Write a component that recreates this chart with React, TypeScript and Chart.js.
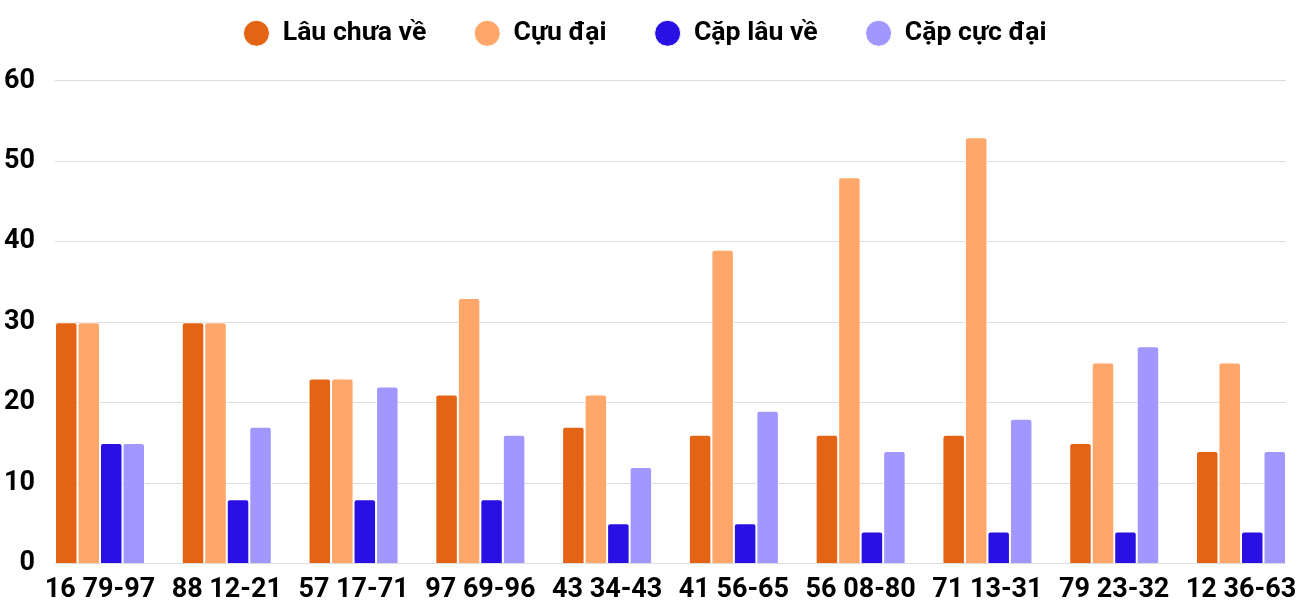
import React, { useEffect, useRef } from "react";
import { Chart, registerables } from "chart.js";

Chart.register(...registerables);

const categories = ["16 79-97", "88 12-21", "57 17-71", "97 69-96", "43 34-43", "41 56-65", "56 08-80", "71 13-31", "79 23-32", "12 36-63"];
const lauChuaVe = [30, 30, 23, 21, 17, 16, 16, 16, 15, 14];
const cuuDai = [30, 30, 23, 33, 21, 39, 48, 53, 25, 25];
const capLauVe = [15, 8, 8, 8, 5, 5, 4, 4, 4, 4];
const capCucDai = [15, 17, 22, 16, 12, 19, 14, 18, 27, 14];
const seriesNames = ["Lâu chưa về", "Cựu đại", "Cặp lâu về", "Cặp cực đại"];
const colors = ["#E36414", "#FFA66B", "#2811E2", "#A197FF"];

const CAT_PCT = 0.71;

// Stretch the category axis so the first and last bar groups touch the plot edges.
const edgeGroupsPlugin = {
  id: "edgeGroups",
  afterLayout(chart: any) {
    const x = chart.scales.x;
    const area = chart.chartArea;
    if (!x || !area) return;
    const n = chart.data.labels.length;
    const W = area.right - area.left;
    const w = W / (n - 1 + CAT_PCT);
    const d = (w * (1 - CAT_PCT)) / 2;
    x.left = area.left - d;
    x.right = area.right + d;
    x.width = x.right - x.left;
    x.configure();
  },
};

export default function App() {
  const ref = useRef<HTMLCanvasElement>(null);
  useEffect(() => {
    if (!ref.current) return;
    const series = [lauChuaVe, cuuDai, capLauVe, capCucDai];
    const chart = new Chart(ref.current, {
      type: "bar",
      data: {
        labels: categories,
        datasets: series.map((d, i) => ({
          label: seriesNames[i],
          data: d,
          backgroundColor: colors[i],
          borderColor: "#ffffff",
          borderWidth: 1,
          borderRadius: 3,
          borderSkipped: "start" as const,
          barPercentage: 1,
          categoryPercentage: CAT_PCT,
        })),
      },
      plugins: [edgeGroupsPlugin],
      options: {
        animation: false,
        responsive: false,
        maintainAspectRatio: false,
        layout: { padding: { left: 4, right: 14, top: -28, bottom: -16 } },
        plugins: {
          tooltip: { enabled: false },
          title: {
            display: true,
            text: " ",
            weight: 500,
            font: { size: 1 },
            padding: { top: 0, bottom: 23 },
          } as any,
          legend: {
            position: "top",
            labels: {
              usePointStyle: true,
              pointStyle: "circle",
              boxWidth: 26,
              boxHeight: 18.4,
              padding: 48,
              color: "#000",
              font: { family: "Roboto", weight: "bold", size: 26.6 },
            },
          },
        },
        scales: {
          x: {
            grid: { display: false, drawTicks: false },
            border: { display: false },
            ticks: {
              color: "#000",
              font: { family: "Roboto", weight: "bold", size: 27 },
              padding: 10,
              maxRotation: 0,
              autoSkip: false,
            },
          },
          y: {
            min: 0,
            max: 60,
            afterFit(scale: any) {
              scale.width = 51;
            },
            ticks: {
              stepSize: 10,
              color: "#000",
              font: { family: "Roboto", weight: "bold", size: 27 },
              padding: 20,
            },
            grid: { color: "#dddddd", drawTicks: false },
            border: { display: false },
          },
        },
      },
    });
    return () => chart.destroy();
  }, []);
  return (
    <div style={{ position: "fixed", left: 0, top: 0, width: 1300, height: 600, background: "#fff" }}>
      <canvas ref={ref} width={1300} height={600} style={{ width: 1300, height: 600 }} />
    </div>
  );
}
